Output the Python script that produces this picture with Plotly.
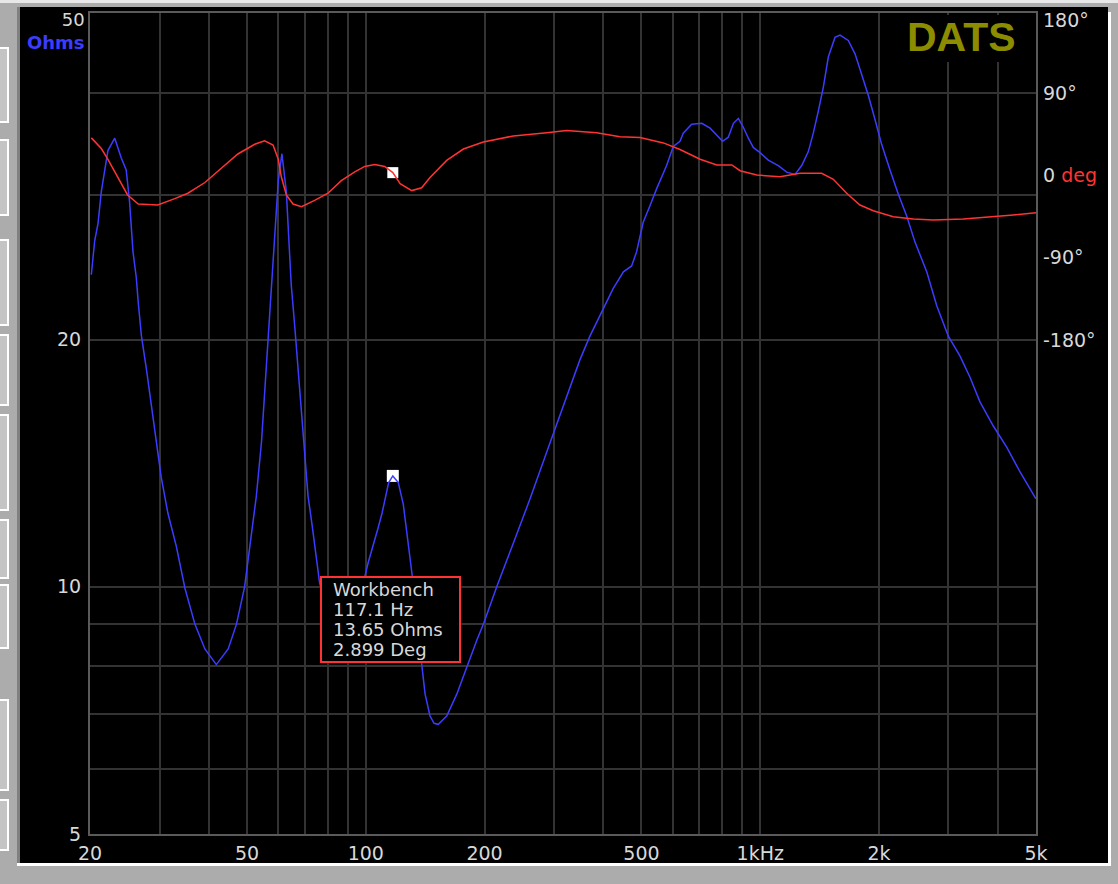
import math
import plotly.graph_objects as go

# ---------------- data ----------------
imp_freq = [20.15, 20.55, 20.95, 21.36, 21.8, 22.2, 23.1, 24.0, 24.7, 25.2, 25.7, 26.2, 26.5, 27.0,
            27.8, 28.6, 29.4, 30.3, 31.5, 33.1, 34.8, 36.9, 39.1, 41.8, 44.8, 47.0, 49.3, 51.3,
            52.8, 54.4, 55.4, 56.5, 57.6, 58.8, 60.0, 61.3, 62.9, 63.8, 64.7, 66.1, 67.4, 68.7,
            70.0, 71.4, 73.1, 74.9, 76.4, 80.0, 86.0, 93.0, 98.0, 101.4, 103.7, 105.6, 107.5,
            110.0, 112.0, 114.3, 117.1, 120.9, 124.5, 127.0, 129.5, 131.2, 135.0, 138.6, 141.4,
            145.5, 149.0, 152.7, 160.4, 170.1, 180.3, 191.1, 199.4, 214.8, 236.6, 260.9, 287.6,
            317, 349, 370, 400, 424, 450, 472, 486, 505, 525, 547, 579, 602, 626, 638, 670,
            711, 746, 776, 803, 830, 855, 880, 906, 933, 960, 999, 1048, 1111, 1167, 1225,
            1274, 1324, 1363, 1404, 1445, 1488, 1547, 1593, 1672, 1739, 1808, 1879, 1954,
            2031, 2133, 2238, 2351, 2468, 2643, 2802, 2998, 3210, 3402, 3606, 3898, 4215,
            4557, 5000]
imp_ohms = [24.0, 26.4, 27.7, 30.3, 32.2, 34.0, 35.2, 33.3, 32.2, 29.4, 25.6, 23.8, 22.2, 20.2,
            18.4, 16.6, 15.0, 13.6, 12.3, 11.2, 9.96, 9.0, 8.4, 8.04, 8.4, 9.0, 10.0, 11.6,
            12.9, 15.0, 17.2, 19.9, 22.8, 26.6, 31.2, 33.7, 30.3, 26.6, 23.4, 20.7, 18.4, 16.3,
            14.3, 12.9, 11.9, 10.9, 10.1, 9.4, 9.0, 9.4, 10.0, 10.7, 11.1, 11.4, 11.8,
            12.3, 12.8, 13.4, 13.65, 13.4, 12.6, 11.7, 10.8, 10.3, 9.0, 8.0, 7.4,
            6.96, 6.82, 6.8, 6.96, 7.4, 8.0, 8.6, 9.05, 10.0, 11.3, 12.8, 14.6,
            16.6, 18.9, 20.2, 21.8, 23.1, 24.2, 24.6, 25.6, 27.8, 29.1, 30.6, 32.6, 34.4, 34.9, 35.7, 36.6,
            36.7, 36.2, 35.5, 34.9, 35.3, 36.7, 37.2, 36.3, 35.2, 34.3, 33.8, 33.1, 32.6, 32.0, 31.8,
            32.6, 33.9, 35.7, 38.0, 40.6, 44.2, 46.7, 47.0, 46.3, 44.6, 42.2, 39.7, 37.1,
            34.6, 32.2, 30.1, 28.3, 26.3, 24.2, 22.0, 20.2, 19.1, 18.0, 16.8, 15.7, 14.8,
            13.8, 12.8]

phase_freq = [20.15, 21.36, 22.2, 23.1, 24.0, 24.9, 26.5, 29.7, 32.8, 35.4, 39.1, 43.0, 47.4,
              52.3, 55.4, 58.2, 60.0, 61.1, 62.9, 65.4, 68.7, 74.2, 80.2, 86.7, 93.8, 99.4,
              105.4, 111.7, 117.1, 122.2, 130.8, 138.6, 145.5, 160.4, 176.8, 198.6, 236.6,
              287.6, 323, 385, 441, 496, 568, 626, 704, 776, 847, 889, 980, 1122, 1261, 1431,
              1532, 1656, 1790, 1934, 2174, 2443, 2746, 3272, 3750, 4381, 5000]
phase_deg = [40.9, 29.2, 17.5, 3.8, -9.8, -21.5, -31.4, -32.5, -25.5, -19.6, -7.9, 7.8, 23.3,
             33.9, 37.8, 33.1, 17.5, -1.9, -21.5, -31.4, -34.4, -27.4, -19.6, -5.9, 3.8, 9.7,
             11.7, 9.7, 2.899, -9.2, -16.7, -13.7, -2.5, 16.3, 28.7, 36.4, 43.0,
             46.6, 48.9, 46.6, 42.2, 41.2, 35.4, 28.2, 17.5, 11.3, 11.3, 5.0, 0.3, -1.5, 2.2, 2.2,
             -4.4, -19.7, -32.5, -38.7, -45.3, -47.8, -48.9, -47.8, -45.9, -43.4, -40.9]

cursor_freq = 117.1
cursor_ohms = 13.65
cursor_deg = 2.899
cursor_lines = ["Workbench", "117.1 Hz", "13.65 Ohms", "2.899 Deg"]

x_tickvals = [20, 30, 40, 50, 60, 70, 80, 90, 100, 200, 300, 400, 500, 600, 700, 800, 900,
              1000, 2000, 3000, 4000, 5000]
x_ticktext = ["20", "", "", "50", "", "", "", "", "100", "200", "", "", "500", "", "", "", "",
              "1kHz", "2k", "", "", "5k"]
y_tickvals = [5, 6, 7, 8, 9, 10, 20, 30, 40, 50]
y_ticktext = ["5", "", "", "", "", "10", "20", "", "", ""]
y2_tickvals = [90, 0, -90, -180]
y2_ticktext = ["90°", "0 <span style='color:#ff3333'>deg</span>", "-90°", "-180°"]

# ---------------- geometry helpers (pixel -> paper) ----------------
W, H = 1118, 884
L, R, T, B = 90, 1036, 13, 834
pw, ph = R - L, B - T


def px(x):
    return (x - L) / pw


def py(y):
    return (B - y) / ph


TICKFONT = dict(family="DejaVu Sans", size=19, color="#d8d8d8")
GRID = "#333333"
FRAME = "#5a5a5a"

fig = go.Figure()
fig.add_trace(go.Scatter(x=[cursor_freq], y=[cursor_ohms], mode="markers",
                         marker=dict(symbol="square", size=12, color="white", line=dict(width=0)),
                         showlegend=False, hoverinfo="skip"))
fig.add_trace(go.Scatter(x=imp_freq, y=imp_ohms, mode="lines",
                         line=dict(color="#3c3cff", width=1.5), showlegend=False))
fig.add_trace(go.Scatter(x=[cursor_freq], y=[cursor_deg], mode="markers", yaxis="y2",
                         marker=dict(symbol="square", size=11, color="white", line=dict(width=0)),
                         showlegend=False, hoverinfo="skip"))
fig.add_trace(go.Scatter(x=phase_freq, y=phase_deg, mode="lines", yaxis="y2",
                         line=dict(color="#ff3333", width=1.5), showlegend=False))

eps = 1e-4
fig.update_layout(
    width=W, height=H, autosize=False,
    margin=dict(l=L, r=W - R, t=T, b=H - B, pad=0),
    paper_bgcolor="#acacac", plot_bgcolor="black",
    xaxis=dict(type="log", range=[math.log10(20) - eps, math.log10(5000) + eps],
               tickvals=x_tickvals, ticktext=x_ticktext, tickfont=TICKFONT, ticks="",
               ticklabelstandoff=1, showgrid=True, gridcolor=GRID, gridwidth=2,
               showline=True, linecolor=FRAME, linewidth=2, mirror=True, zeroline=False),
    yaxis=dict(type="log", range=[math.log10(5) - eps, math.log10(50) + eps],
               tickvals=y_tickvals, ticktext=y_ticktext, tickfont=TICKFONT, ticks="",
               ticklabelstandoff=3, showgrid=True, gridcolor=GRID, gridwidth=2,
               showline=True, linecolor=FRAME, linewidth=2, mirror=True, zeroline=False),
    yaxis2=dict(overlaying="y", side="right", range=[-720, 177.4],
                tickvals=y2_tickvals, ticktext=y2_ticktext, tickfont=TICKFONT, ticks="",
                ticklabelstandoff=6, showgrid=False, zeroline=False, showline=False),
)

shapes = [
    # black instrument panel
    dict(type="rect", xref="paper", yref="paper", x0=px(20), x1=px(1108), y0=py(863), y1=py(7),
         fillcolor="black", line=dict(width=0), layer="below"),
    # 3D bevel lines
    dict(type="rect", xref="paper", yref="paper", x0=px(17), x1=px(1111), y0=py(866), y1=py(863),
         fillcolor="white", line=dict(width=0), layer="below"),
    dict(type="rect", xref="paper", yref="paper", x0=px(1108), x1=px(1111), y0=py(866), y1=py(12),
         fillcolor="white", line=dict(width=0), layer="below"),
    dict(type="rect", xref="paper", yref="paper", x0=px(17), x1=px(20), y0=py(863), y1=py(7),
         fillcolor="#808080", line=dict(width=0), layer="below"),
    dict(type="rect", xref="paper", yref="paper", x0=px(0), x1=px(1118), y0=py(3), y1=py(0),
         fillcolor="#e8e8e8", line=dict(width=0), layer="below"),
    # block behind the DATS logo
    dict(type="rect", xref="paper", yref="paper", x0=px(888), x1=px(1034), y0=py(62), y1=py(15),
         fillcolor="black", line=dict(width=0), layer="above"),
    # cursor read-out box
    dict(type="rect", xref="paper", yref="paper", x0=px(321), x1=px(460), y0=py(662), y1=py(577),
         fillcolor="black", line=dict(color="#ff3333", width=2), layer="above"),
]
# window-chrome buttons on the left edge
for y0, y1 in [(48, 122), (140, 215), (240, 325), (335, 405), (415, 510), (520, 578),
               (585, 648), (700, 790), (800, 850)]:
    shapes.append(dict(type="rect", xref="paper", yref="paper", x0=px(-4), x1=px(8),
                       y0=py(y1), y1=py(y0), fillcolor="#c4c4c4",
                       line=dict(color="white", width=2), layer="below"))
fig.update_layout(shapes=shapes)

ann = [
    dict(text="50<br><span style='color:#3c3cff'><b>Ohms</b></span>", x=px(87), y=py(31),
         xanchor="right", yanchor="middle", align="right",
         font=dict(family="DejaVu Sans", size=18, color="#d8d8d8")),
    dict(text="180°", x=px(1041), y=py(20), xanchor="left", yanchor="middle"),
    dict(text="<b>DATS</b>", x=px(961.5), y=py(37.5), xanchor="center", yanchor="middle",
         font=dict(family="Liberation Sans", size=41, color="#8c8c00")),
]
for i, t in enumerate(cursor_lines):
    ann.append(dict(text=t, x=px(331), y=py(589 + 20 * i), xanchor="left", yanchor="middle",
                    font=dict(family="DejaVu Sans", size=18, color="#d8d8d8")))
for a in ann:
    a.setdefault("font", TICKFONT)
    a.update(xref="paper", yref="paper", showarrow=False)
fig.update_layout(annotations=ann)

fig.write_html("out.html",
               config={"displayModeBar": False},
               post_script="document.body.style.margin='0';"
                           "document.body.style.overflow='hidden';"
                           "document.body.style.background='#acacac';")
